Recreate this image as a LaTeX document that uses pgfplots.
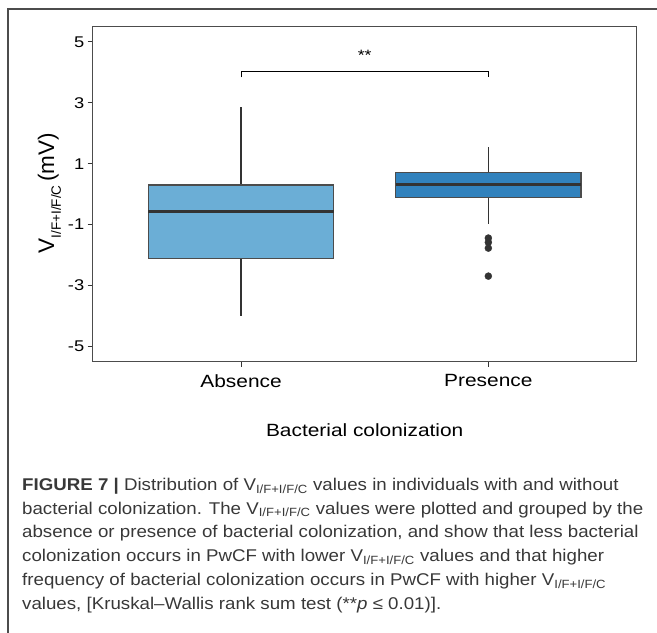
\documentclass[border=0pt]{standalone}
\usepackage{fontspec}
\setmainfont{Liberation Sans}
\newfontfamily\chartfont[FakeStretch=1.18]{Liberation Sans}
\newfontfamily\capfont[FakeStretch=1.1]{Liberation Sans}
\usepackage{pgfplots}
\pgfplotsset{compat=1.18}
\usepgfplotslibrary{statistics}

\definecolor{boxA}{HTML}{6BAED6}
\definecolor{boxP}{HTML}{3182BD}
\definecolor{dk}{HTML}{333333}

\begin{document}
\begin{tikzpicture}[x=1bp,y=1bp]
\path[use as bounding box] (0,0) rectangle (657,-633);
\draw[color=black!70, line width=1.3bp] (8,-633) -- (8,-9) -- (657,-9);

\begin{axis}[
  at={(92.7bp,-26.7bp)}, anchor=north west,
  scale only axis, width=544bp, height=335bp,
  xmin=0.4, xmax=2.6, ymin=-5.5, ymax=5.5,
  xtick={1,2}, xticklabels={Absence,Presence},
  ytick={-5,-3,-1,1,3,5}, yticklabels={-5,-3,-1,1,3,5},
  xtick pos=left, ytick pos=left,
  tick align=outside, major tick length=5bp,
  tick style={dk, line width=0.9bp},
  axis line style={black!70, line width=1.1bp},
  ticklabel style={font=\chartfont\fontsize{15.5bp}{17bp}\selectfont, text=black},
  xticklabel style={font=\chartfont\fontsize{17.7bp}{19bp}\selectfont, yshift=-4bp},
  xlabel={Bacterial colonization},
  xlabel style={font=\chartfont\fontsize{17.7bp}{19bp}\selectfont, yshift=-30bp},
  ylabel={V\raisebox{-0.3em}{\fontsize{13.5bp}{14bp}\selectfont I/F+I/F/C}\,(mV)},
  ylabel style={font=\fontsize{22.5bp}{24bp}\selectfont, xshift=1bp},
  boxplot/draw direction=y,
  boxplot/every box/.style={draw=black!70, line width=1.2bp},
  boxplot/every whisker/.style={dk, line width=1.3bp},
  boxplot/every median/.style={dk, line width=3.4bp},
  boxplot/whisker extend=0,
]
\addplot[boxplot prepared={median=-0.57, upper quartile=0.30,
  lower quartile=-2.12, upper whisker=2.85, lower whisker=-4.0,
  draw position=1, box extend=0.75},
  boxplot/every box/.append style={fill=boxA}] coordinates {};
\addplot[boxplot prepared={median=0.31, upper quartile=0.70,
  lower quartile=-0.12, upper whisker=1.55, lower whisker=-0.98,
  draw position=2, box extend=0.75},
  boxplot/every box/.append style={fill=boxP},
  mark=*, mark size=3.5bp, mark options={dk, fill=dk}]
  table[row sep=\\, y index=0] {y\\ -1.44\\ -1.58\\ -1.77\\ -2.69\\};
% significance bracket
\addplot[black, line width=1bp] coordinates {(1,3.84) (1,4.03) (2,4.03) (2,3.84)};
\node[font=\chartfont\fontsize{15bp}{16bp}\selectfont] at (axis cs:1.5,4.55) {**};
\end{axis}

\node[anchor=north west, align=left, inner sep=0pt, text=black!78,
  font=\capfont\fontsize{17bp}{23.7bp}\selectfont] at (22,-478) {%
{\bfseries FIGURE 7 |} Distribution of V\textsubscript{I/F+I/F/C} values in individuals with and without\\
bacterial colonization. The V\textsubscript{I/F+I/F/C} values were plotted and grouped by the\\
absence or presence of bacterial colonization, and show that less bacterial\\
colonization occurs in PwCF with lower V\textsubscript{I/F+I/F/C} values and that higher\\
frequency of bacterial colonization occurs in PwCF with higher V\textsubscript{I/F+I/F/C}\\
values, [Kruskal–Wallis rank sum test (**\textit{p} ≤ 0.01)].};
\end{tikzpicture}
\end{document}
